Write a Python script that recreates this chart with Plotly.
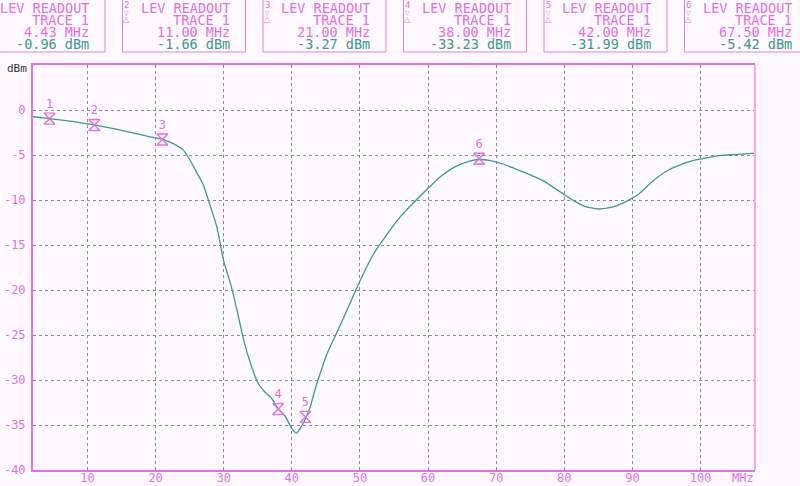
import plotly.graph_objects as go

# ---------------- data ----------------
freq_mhz = [2, 4.43, 8, 11, 14, 17, 19, 21, 22, 23, 24, 25, 26, 27, 28, 29, 30, 31, 32, 33,
            34, 35, 36, 37, 38, 39, 40, 40.7, 41.3, 42, 42.7, 43.5, 44.2, 45, 46, 47, 48, 49, 50,
            52, 54, 56, 58, 60, 62, 64, 66, 67.5, 69, 71, 73, 75, 77, 79, 81, 83, 85, 87, 89,
            91, 93, 95, 97, 99, 101, 103, 105, 108]
level_dbm = [-0.75, -0.96, -1.3, -1.66, -2.1, -2.6, -2.95, -3.27, -3.55, -3.9, -4.4, -5.5,
             -6.9, -8.3, -10.6, -13.0, -16.8, -19.3, -22.4, -25.8, -28.3, -30.3, -31.3, -32.0,
             -33.23, -34.0, -35.4, -35.9, -35.3, -34.3, -33.0, -30.8, -29.2, -27.4, -25.7,
             -24.1, -22.4, -20.7, -19.0, -16.0, -13.8, -11.8, -10.2, -8.7, -7.3, -6.3, -5.7, -5.5,
             -5.6, -6.0, -6.6, -7.2, -7.9, -8.9, -9.9, -10.7, -11.0, -10.8, -10.2, -9.3, -7.9,
             -6.8, -6.1, -5.6, -5.3, -5.05, -4.95, -4.8]

marker_ids = ["1", "2", "3", "4", "5", "6"]
marker_freq = [4.43, 11.00, 21.00, 38.00, 42.00, 67.50]
marker_level = [-0.96, -1.66, -3.27, -33.23, -34.1, -5.42]
readout_freq_text = ["4.43 MHz", "11.00 MHz", "21.00 MHz", "38.00 MHz", "42.00 MHz", "67.50 MHz"]
readout_level_text = ["-0.96 dBm", "-1.66 dBm", "-3.27 dBm", "-33.23 dBm", "-31.99 dBm", "-5.42 dBm"]

x_ticks = [10, 20, 30, 40, 50, 60, 70, 80, 90, 100]
y_ticks = [0, -5, -10, -15, -20, -25, -30, -35, -40]

# ---------------- style ----------------
PINK = "#e070e0"
BOXPINK = "#d884d8"
TEAL = "#3a9a8c"
BG = "#fef9fe"
MONO = "DejaVu Sans Mono"

W, H = 800, 486
L, R, T, B = 33, 755, 65, 470


def px(xp):
    return (xp - L) / (R - L)


def py(yp):
    return (B - yp) / (B - T)


fig = go.Figure()

fig.add_trace(go.Scatter(
    x=freq_mhz, y=level_dbm, mode="lines",
    line=dict(color=TEAL, width=1.3, shape="spline", smoothing=0.5),
    hoverinfo="skip", showlegend=False,
))

fig.add_trace(go.Scatter(
    x=marker_freq, y=marker_level, mode="markers+text",
    text=marker_ids, textposition="top center",
    textfont=dict(family=MONO, size=12, color=PINK),
    marker=dict(symbol="hourglass-open", size=11, color=PINK, line=dict(color=PINK, width=1.4)),
    hoverinfo="skip", showlegend=False,
))

shapes = []
annotations = []

# right border (lighter)
shapes.append(dict(type="line", xref="paper", yref="paper", x0=1, x1=1, y0=0, y1=1,
                   line=dict(color="#f4a8f4", width=2)))

# readout boxes
for i in range(6):
    left = -18 + 140.5 * i
    right = left + 123
    shapes.append(dict(type="rect", xref="paper", yref="paper",
                       x0=px(left), x1=px(right), y0=py(52), y1=py(-5),
                       line=dict(color=BOXPINK, width=1)))
    tx = px(right - 14)
    rows = [("LEV READOUT", 8, PINK), ("TRACE 1", 20, PINK),
            (readout_freq_text[i], 32, PINK), (readout_level_text[i], 44, TEAL)]
    for txt, yy, col in rows:
        annotations.append(dict(xref="paper", yref="paper", x=tx, y=py(yy), text=txt,
                                showarrow=False, xanchor="right", yanchor="middle",
                                font=dict(family=MONO, size=13.5, color=col)))
    if left + 4 < 0:
        continue  # symbol of the first box lies outside the window
    sx = px(left + 4)
    annotations.append(dict(xref="paper", yref="paper", x=sx, y=py(5), text=marker_ids[i],
                            showarrow=False, xanchor="center", yanchor="middle",
                            font=dict(family=MONO, size=9, color=PINK)))
    annotations.append(dict(xref="paper", yref="paper", x=sx, y=py(12.5), text="▽",
                            showarrow=False, xanchor="center", yanchor="middle",
                            font=dict(family="DejaVu Sans", size=6, color=PINK)))
    annotations.append(dict(xref="paper", yref="paper", x=sx, y=py(20), text="△",
                            showarrow=False, xanchor="center", yanchor="middle",
                            font=dict(family="DejaVu Sans", size=8, color=PINK)))

annotations.append(dict(xref="paper", yref="paper", x=px(5), y=py(69), text="dBm",
                        showarrow=False, xanchor="left", yanchor="middle",
                        font=dict(family=MONO, size=11, color="#333333")))
annotations.append(dict(xref="paper", yref="paper", x=px(743), y=py(478), text="MHz",
                        showarrow=False, xanchor="center", yanchor="middle",
                        font=dict(family=MONO, size=12, color=PINK)))

fig.update_layout(
    width=W, height=H,
    margin=dict(l=L, r=W - R, t=T, b=H - B, autoexpand=False),
    paper_bgcolor=BG, plot_bgcolor=BG,
    shapes=shapes, annotations=annotations,
    showlegend=False,
    xaxis=dict(range=[2, 108], tickvals=x_ticks, ticktext=[str(v) for v in x_ticks],
               showgrid=True, gridcolor="#8a8a8a", griddash="dot", gridwidth=1,
               showline=True, linecolor=PINK, linewidth=2, mirror=True,
               ticks="", ticklabelstandoff=-4,
               tickfont=dict(family=MONO, size=12, color=PINK),
               zeroline=False, automargin=False, fixedrange=True),
    yaxis=dict(range=[-40, 5], tickvals=y_ticks, ticktext=[str(v) for v in y_ticks],
               showgrid=True, gridcolor="#8a8a8a", griddash="dot", gridwidth=1,
               showline=True, linecolor=PINK, linewidth=2,
               ticks="", ticklabelstandoff=3,
               tickfont=dict(family=MONO, size=12, color=PINK),
               zeroline=False, automargin=False, fixedrange=True),
)

fig.write_html("out.html", config={"displayModeBar": False},
               post_script="document.body.style.margin='0px';document.body.style.background='%s';" % BG)
